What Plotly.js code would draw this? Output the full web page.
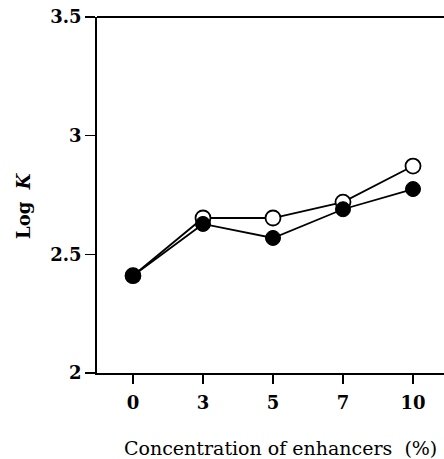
<!DOCTYPE html>
<html>
<head>
<meta charset="utf-8">
<script src="https://cdn.plot.ly/plotly-3.0.1.min.js"></script>
<style>html,body{margin:0;padding:0;background:#fff;overflow:hidden;}#chart{width:448px;height:459px;}</style>
</head>
<body>
<div id="chart"></div>
<script>
const categories = ["0", "3", "5", "7", "10"];
const openValues = [2.41, 2.653, 2.653, 2.72, 2.872];
const filledValues = [2.41, 2.628, 2.569, 2.69, 2.775];
const yTickVals = [2, 2.5, 3, 3.5];
const yTickText = ["2", "2.5", "3", "3.5"];
const xTitle = "Concentration of enhancers\u00a0\u00a0(%)";
const yTitle = "<b>Log\u00a0\u00a0<i>K</i></b>";

const serif = "DejaVu Serif";
const xIdx = categories.map((c, i) => i);
const W = 448, H = 459, L = 97, T = 17, B = 86;

const traces = [
  {
    x: xIdx, y: openValues, type: "scatter", mode: "lines+markers",
    line: {color: "#000", width: 1.8},
    marker: {symbol: "circle", size: 15, color: "#fff", line: {color: "#000", width: 1.8}},
    cliponaxis: false, showlegend: false
  },
  {
    x: xIdx, y: filledValues, type: "scatter", mode: "lines+markers",
    line: {color: "#000", width: 1.8},
    marker: {symbol: "circle", size: 15, color: "#000", line: {color: "#000", width: 1}},
    cliponaxis: false, showlegend: false
  }
];

const layout = {
  width: W, height: H,
  margin: {l: L, r: 0, t: T, b: B},
  paper_bgcolor: "#fff", plot_bgcolor: "#fff",
  showlegend: false,
  xaxis: {
    range: [-0.514, 4.5],
    tickmode: "array", tickvals: xIdx, ticktext: categories,
    showgrid: false, zeroline: false,
    showline: true, linecolor: "#000", linewidth: 1.8,
    ticks: "outside", ticklen: 9, tickwidth: 1.5, tickcolor: "#000",
    ticklabelstandoff: 4,
    tickfont: {family: serif, size: 18, color: "#000", weight: "bold"}
  },
  yaxis: {
    range: [2, 3.5],
    tickmode: "array", tickvals: yTickVals, ticktext: yTickText,
    showgrid: false, zeroline: false,
    showline: true, linecolor: "#000", linewidth: 1.8,
    ticks: "outside", ticklen: 10, tickwidth: 1.5, tickcolor: "#000",
    tickfont: {family: serif, size: 18, color: "#000", weight: "bold"}
  },
  shapes: [{
    type: "line", xref: "paper", yref: "paper", x0: 0, x1: 1, y0: 1, y1: 1,
    line: {color: "#000", width: 1.8}
  }],
  annotations: [
    {
      text: xTitle, xref: "paper", yref: "paper",
      x: (280 - L) / (W - L), y: -(448 - 373) / (H - T - B),
      xanchor: "center", yanchor: "middle", showarrow: false,
      font: {family: serif, size: 19, color: "#000"}
    },
    {
      text: yTitle, xref: "paper", yref: "paper", textangle: -90,
      x: -(L - 23) / (W - L), y: (373 - 206) / (H - T - B),
      xanchor: "center", yanchor: "middle", showarrow: false,
      font: {family: serif, size: 18, color: "#000"}
    }
  ]
};

Plotly.newPlot("chart", traces, layout, {displayModeBar: false, staticPlot: true});
</script>
</body>
</html>
